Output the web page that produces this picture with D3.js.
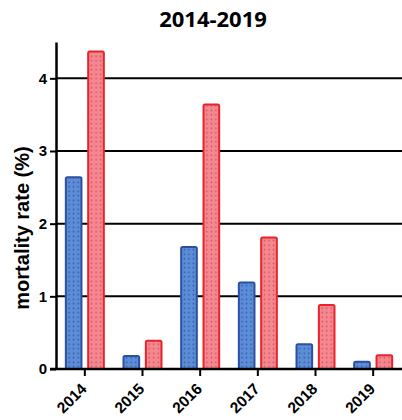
<html>
<head>
    <style>
        body { margin: 0; background: #fff; }
        text { font-family: "Liberation Sans", Arial, sans-serif; font-weight: bold; }
        .title { font-family: "Open Sans", sans-serif; }
    </style>
    <script src="https://d3js.org/d3.v7.min.js"></script>
</head>
<body>
    <svg width="402" height="420"></svg>

    <script>
        // data
        var years = ["2014", "2015", "2016", "2017", "2018", "2019"];
        var seriesNames = ["blue", "red"];
        var blueValues = [2.64, 0.18, 1.68, 1.19, 0.34, 0.10];
        var redValues = [4.37, 0.39, 3.64, 1.81, 0.88, 0.19];
        var yTicks = [0, 1, 2, 3, 4];

        var svg = d3.select("svg");
        var plotLeft = 56, plotRight = 402, plotTop = 42, plotBottom = 369;

        var defs = svg.append("defs");
        function dots(id, bg, dot) {
            var p = defs.append("pattern").attr("id", id)
                .attr("patternUnits", "userSpaceOnUse").attr("width", 4.5).attr("height", 4.5);
            p.append("rect").attr("width", 4.5).attr("height", 4.5).attr("fill", bg);
            p.append("circle").attr("cx", 2.25).attr("cy", 2.25).attr("r", 0.8).attr("fill", dot);
        }
        dots("pblue", "#5c8dd6", "#2f57a8");
        dots("pred", "#f4878f", "#d84e59");

        var fills = { blue: "url(#pblue)", red: "url(#pred)" };
        var strokes = { blue: "#2c4fa3", red: "#e8232b" };

        var x = d3.scaleBand().domain(years).range([plotLeft, plotRight]);
        var x1 = d3.scaleBand().domain(seriesNames).range([-19, 19]).paddingInner(0.3);
        var y = d3.scaleLinear().domain([0, 4.5]).range([plotBottom, plotTop]);

        // gridlines
        svg.append("g").selectAll("line").data(yTicks.slice(1)).enter().append("line")
            .attr("x1", plotLeft).attr("x2", plotRight)
            .attr("y1", function(d){ return y(d); }).attr("y2", function(d){ return y(d); })
            .attr("stroke", "#000").attr("stroke-width", 2);

        var rows = years.map(function(yr, i){
            return { year: yr, vals: [{ s: "blue", v: blueValues[i] }, { s: "red", v: redValues[i] }] };
        });

        svg.append("g").selectAll("g").data(rows).enter().append("g")
            .attr("transform", function(d){ return "translate(" + (x(d.year) + x.bandwidth() / 2) + ",0)"; })
            .selectAll("rect").data(function(d){ return d.vals; }).enter().append("rect")
            .attr("x", function(d){ return x1(d.s); })
            .attr("width", x1.bandwidth())
            .attr("y", function(d){ return y(d.v); })
            .attr("height", function(d){ return y(0) - y(d.v); })
            .attr("fill", function(d){ return fills[d.s]; })
            .attr("stroke", function(d){ return strokes[d.s]; })
            .attr("stroke-width", 2)
            .attr("rx", 1.5);

        // y axis
        var yAxis = svg.append("g").attr("transform", "translate(" + plotLeft + ",0)")
            .call(d3.axisLeft(y).tickValues(yTicks).tickSize(6).tickSizeOuter(0).tickFormat(d3.format("d")));
        yAxis.select(".domain").attr("stroke-width", 2.5);
        yAxis.selectAll(".tick line").attr("stroke-width", 2);
        yAxis.selectAll(".tick text").attr("font-size", 15).attr("x", -9).attr("fill", "#000");

        // x axis
        var xAxis = svg.append("g").attr("transform", "translate(0," + plotBottom + ")")
            .call(d3.axisBottom(x).tickSize(7).tickSizeOuter(0));
        xAxis.select(".domain").attr("d", "M" + (plotLeft - 6) + ",0H" + plotRight).attr("stroke-width", 2.5);
        xAxis.selectAll(".tick line").attr("stroke-width", 2);
        xAxis.selectAll(".tick text")
            .attr("font-size", 15.5).attr("fill", "#000")
            .attr("text-anchor", "end")
            .attr("transform", "translate(-1,17) rotate(-45)")
            .attr("y", 0).attr("dy", "0.35em");

        // axis label
        svg.append("text")
            .attr("transform", "translate(29,228) rotate(-90)")
            .attr("text-anchor", "middle")
            .attr("font-size", 20)
            .text("mortality rate (%)");

        // title
        svg.append("text").attr("class", "title")
            .attr("x", 213).attr("y", 27)
            .attr("text-anchor", "middle")
            .attr("font-size", 22)
            .text("2014-2019");
    </script>
</body>
</html>
